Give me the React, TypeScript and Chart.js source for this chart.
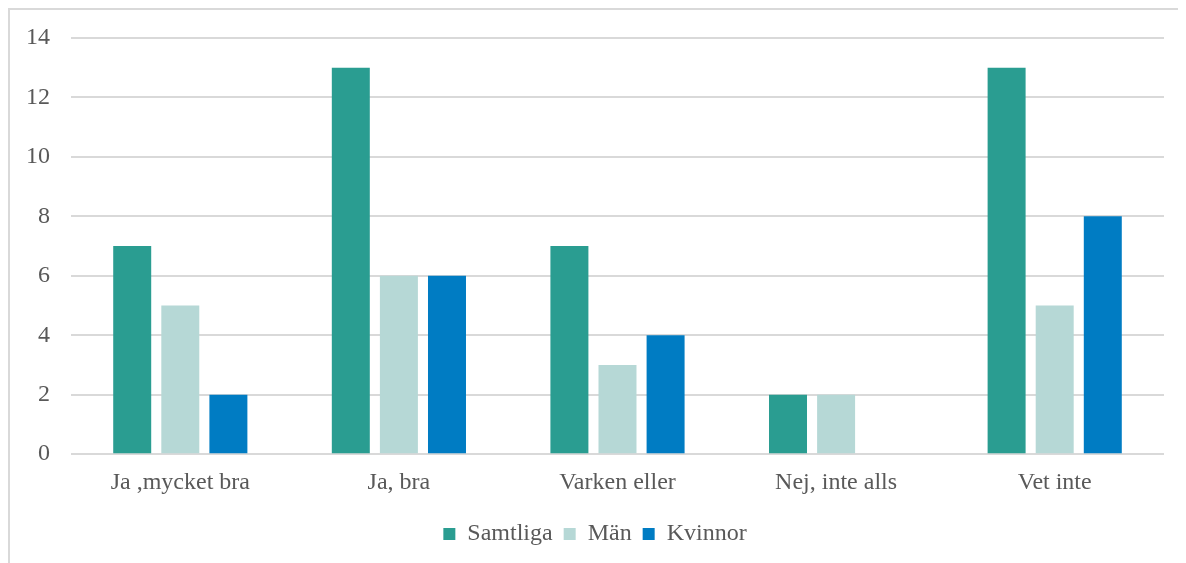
import React, { useEffect, useRef } from "react";
import { Chart, registerables } from "chart.js";

Chart.register(...registerables);

const categories = ["Ja ,mycket bra", "Ja, bra", "Varken eller", "Nej, inte alls", "Vet inte"];
const samtliga = [7, 13, 7, 2, 13];
const man = [5, 6, 3, 2, 5];
const kvinnor = [2, 6, 4, 0, 8];
const seriesNames = ["Samtliga", "Män", "Kvinnor"];
const colors = ["#2A9D91", "#B6D8D6", "#007CC3"];

export default function App() {
  const ref = useRef<HTMLCanvasElement>(null);
  useEffect(() => {
    if (!ref.current) return;
    const font = { family: "'Liberation Serif', 'Times New Roman', serif", size: 24 };
    const chart = new Chart(ref.current, {
      type: "bar",
      data: {
        labels: categories,
        datasets: [samtliga, man, kvinnor].map((d, i) => ({
          label: seriesNames[i],
          data: d,
          backgroundColor: colors[i],
          borderWidth: 0,
          categoryPercentage: 0.66,
          barPercentage: 0.79,
        })),
      },
      options: {
        animation: false,
        responsive: false,
        maintainAspectRatio: false,
        layout: { padding: { left: 16, right: 22, top: 28, bottom: 14 } },
        plugins: {
          tooltip: { enabled: false },
          legend: {
            position: "bottom",
            labels: { font, color: "#595959", boxWidth: 12, boxHeight: 12, padding: 11 },
          },
        },
        scales: {
          x: {
            grid: { display: false, drawTicks: false },
            border: { display: false },
            ticks: { font, color: "#595959", padding: 14 },
            afterFit: (s: any) => {
              s.paddingLeft = 0;
              s.paddingRight = 0;
            },
          },
          y: {
            min: 0,
            max: 14,
            ticks: { stepSize: 2, font, color: "#595959", padding: 21 },
            grid: { color: "#d9d9d9", lineWidth: 2, drawTicks: false },
            border: { display: false },
            afterFit: (s: any) => {
              s.width = 45;
              s.paddingTop = 0;
              s.paddingBottom = 0;
            },
          },
        },
      },
    });
    return () => chart.destroy();
  }, []);
  return (
    <div style={{ width: 1176, height: 560, border: "2px solid #d9d9d9" }}>
      <canvas ref={ref} width={1176} height={560} style={{ display: "block" }} />
    </div>
  );
}
